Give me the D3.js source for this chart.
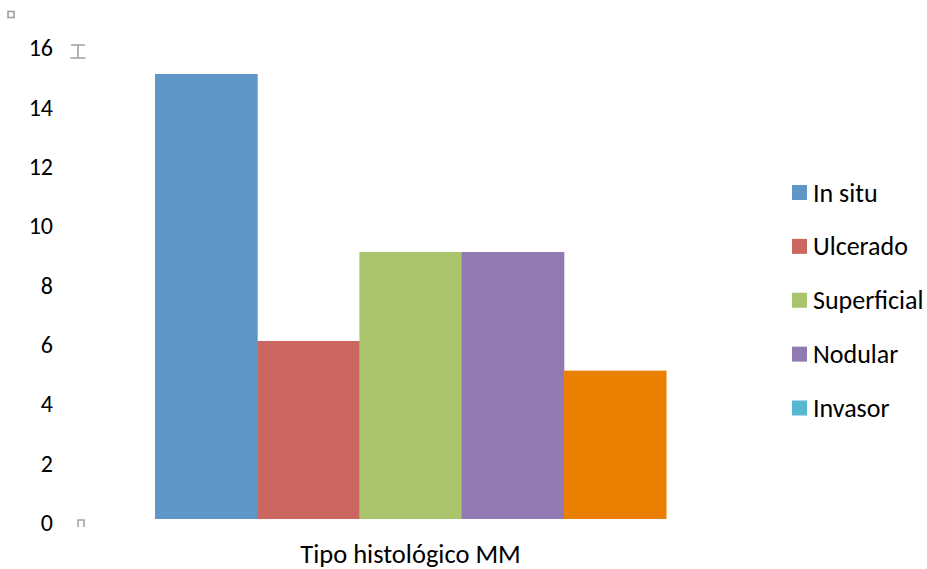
<!DOCTYPE html>
<html>
<head>
<meta charset="utf-8">
<script src="https://cdn.jsdelivr.net/npm/d3@7/dist/d3.min.js"></script>
<style>
  html, body { margin: 0; padding: 0; background: #ffffff; }
  svg { display: block; }
  text { font-family: Carlito, Calibri, Lato, "Open Sans", sans-serif; fill: #000; }
</style>
</head>
<body>
<svg id="chart" width="927" height="569"></svg>
<script>
// Chart data
const category = ["Tipo histológico MM"];
const seriesNames = ["In situ", "Ulcerado", "Superficial", "Nodular", "Invasor"];
const seriesValues = [15, 6, 9, 9, 5];
const barColors = ["#6096C7", "#CC6660", "#AAC46E", "#917AB2", "#E98002"];
const legendColors = ["#6096C7", "#CC6660", "#AAC46E", "#917AB2", "#56B9CF"];
const yTicks = [0, 2, 4, 6, 8, 10, 12, 14, 16];

const svg = d3.select("#chart");

const plot = { left: 100, right: 721, top: 44.3, bottom: 519 };

const y = d3.scaleLinear().domain([0, 16]).range([plot.bottom, plot.top]);

const x0 = d3.scaleBand()
  .domain(category)
  .range([plot.left, plot.right])
  .paddingInner(0)
  .paddingOuter(0.1076);

const x1 = d3.scaleBand()
  .domain(seriesNames)
  .range([0, x0.bandwidth()])
  .padding(0);

// Y axis labels (no axis line, no gridlines)
const yAxis = d3.axisLeft(y).tickValues(yTicks).tickSize(0).tickPadding(0);
const yG = svg.append("g")
  .attr("transform", "translate(53,0)")
  .call(yAxis);
yG.select(".domain").remove();
yG.selectAll("text")
  .attr("font-size", 24)
  .attr("dy", "0.48em")
  .style("font-family", "Carlito, Calibri, Lato, 'Open Sans', sans-serif")
  .attr("fill", "#000");

// Bars
const bars = svg.append("g")
  .attr("transform", `translate(${x0(category[0])},0)`);
bars.selectAll("rect")
  .data(seriesNames.map((n, i) => ({ name: n, value: seriesValues[i], color: barColors[i] })))
  .join("rect")
  .attr("x", d => x1(d.name))
  .attr("y", d => y(d.value))
  .attr("width", x1.bandwidth() + 0.5)
  .attr("height", d => y(0) - y(d.value))
  .attr("fill", d => d.color);

// Category axis title
svg.append("text")
  .attr("x", x0(category[0]) + x0.bandwidth() / 2)
  .attr("y", 554)
  .attr("dy", "0.35em")
  .attr("text-anchor", "middle")
  .attr("font-size", 26.5)
  .text(category[0]);

// Legend
const legend = svg.append("g").attr("transform", "translate(792,0)");
const legendY = d3.scalePoint().domain(seriesNames).range([192.5, 408]);
const item = legend.selectAll("g")
  .data(seriesNames.map((n, i) => ({ name: n, color: legendColors[i] })))
  .join("g")
  .attr("transform", d => `translate(0,${legendY(d.name)})`);
item.append("rect")
  .attr("x", 0).attr("y", -7.5)
  .attr("width", 15).attr("height", 15)
  .attr("fill", d => d.color);
item.append("text")
  .attr("x", 21)
  .attr("dy", "0.35em")
  .attr("font-size", 26)
  .text(d => d.name);

// Small gray handle marks
const markColor = "#a0a0a0";
svg.append("rect")
  .attr("x", 8).attr("y", 11.5).attr("width", 6).attr("height", 6)
  .attr("fill", "none").attr("stroke", markColor).attr("stroke-width", 1.6);
svg.append("path")
  .attr("d", "M71,45 H85 M78,45 V58 M70.5,58 H85.5")
  .attr("fill", "none").attr("stroke", markColor).attr("stroke-width", 1.6);
svg.append("path")
  .attr("d", "M78,527 V520 H84 V527")
  .attr("fill", "none").attr("stroke", markColor).attr("stroke-width", 1.5);
</script>
</body>
</html>
